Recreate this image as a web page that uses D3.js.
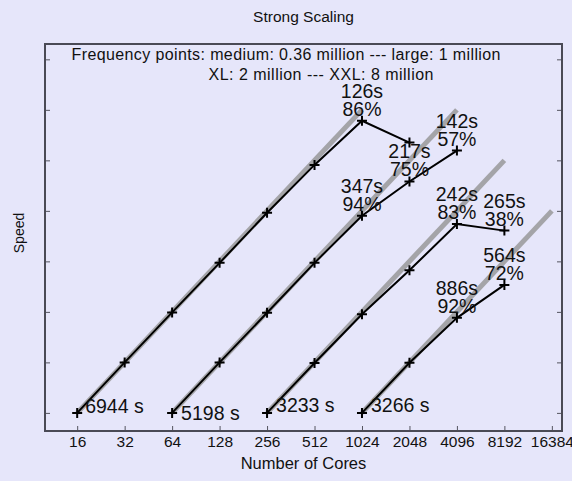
<!DOCTYPE html>
<html>
<head>
<meta charset="utf-8">
<script src="https://cdn.jsdelivr.net/npm/d3@7"></script>
<style>
  body { margin: 0; background: #e6e6fa; }
  text { font-family: "Liberation Sans", Arial, sans-serif; fill: #111; }
</style>
</head>
<body>
<div id="chart"></div>
<script>
// problem sizes: cores used and wall time (s)
var names = ["medium", "large", "XL", "XXL"];
var cores = [
  [16, 32, 64, 128, 256, 512, 1024, 2048],
  [64, 128, 256, 512, 1024, 2048, 4096],
  [256, 512, 1024, 2048, 4096, 8192],
  [1024, 2048, 4096, 8192]
];
var times = [
  [6944, 3472, 1749, 886, 445, 231, 126, 170],
  [5198, 2600, 1316, 663, 347, 217, 142],
  [3233, 1630, 835, 457, 242, 265],
  [3266, 1640, 886, 564]
];
// points that carry a "time / efficiency" label
var labelAt = [[1024], [1024, 2048, 4096], [4096, 8192], [4096, 8192]];
// ideal (linear) speedup is drawn up to these core counts
var idealEnd = [1024, 4096, 8192, 16384];
var xTicks = [16, 32, 64, 128, 256, 512, 1024, 2048, 4096, 8192, 16384];
var yTicks = [1, 2, 4, 8, 16, 32, 64, 128];
var title = "Strong Scaling";
var note = ["Frequency points: medium: 0.36 million --- large: 1 million",
            "XL: 2 million --- XXL: 8 million"];

var W = 572, H = 481;
var m = {top: 44, right: 10, bottom: 50, left: 45};
var width = W - m.left - m.right,
    height = H - m.top - m.bottom;

var svg = d3.select("#chart").append("svg")
    .attr("width", W).attr("height", H);

var g = svg.append("g")
    .attr("transform", "translate(" + m.left + "," + m.top + ")");

var x = d3.scaleLog().base(2).domain([10, 19000]).range([0, width]);
var y = d3.scaleLog().base(2).domain([0.78, 158]).range([height, 0]);

// build point objects
var series = cores.map(function(c, i) {
  return c.map(function(n, j) {
    return {cores: n, time: times[i][j],
            speed: times[i][0] / times[i][j],
            eff: times[i][0] * c[0] / (times[i][j] * n)};
  });
});

// axes, ticks inward
g.append("g")
  .attr("class", "x axis")
  .attr("transform", "translate(0," + height + ")")
  .call(d3.axisBottom(x).tickValues(xTicks).tickSizeInner(-5).tickSizeOuter(0)
        .tickPadding(5).tickFormat(d3.format("d")));
g.append("g")
  .attr("class", "y axis")
  .call(d3.axisLeft(y).tickValues(yTicks).tickSizeInner(-5).tickSizeOuter(0).tickFormat(""));
g.append("g")
  .attr("class", "y axis")
  .attr("transform", "translate(" + width + ",0)")
  .call(d3.axisRight(y).tickValues(yTicks).tickSizeInner(-5).tickSizeOuter(0).tickFormat(""));
g.selectAll(".axis path").remove();
g.selectAll(".axis line").attr("stroke", "#555560").attr("stroke-width", 1);
g.selectAll(".x.axis text").style("font-size", "15.5px").attr("fill", "#111");

g.append("rect")
  .attr("width", width).attr("height", height)
  .attr("fill", "none").attr("stroke", "#4a4a55").attr("stroke-width", 2);

// ideal speedup lines
var line = d3.line()
  .x(function(d) { return x(d.cores); })
  .y(function(d) { return y(d.speed); });

g.selectAll(".ideal")
  .data(series)
  .enter().append("path")
  .attr("class", "ideal")
  .attr("d", function(s, i) {
    var c0 = s[0].cores;
    return line([{cores: c0, speed: 1}, {cores: idealEnd[i], speed: idealEnd[i] / c0}]);
  })
  .attr("fill", "none").attr("stroke", "#a4a4a8").attr("stroke-width", 5);

g.selectAll(".measured")
  .data(series)
  .enter().append("path")
  .attr("class", "measured")
  .attr("d", line)
  .attr("fill", "none").attr("stroke", "#000").attr("stroke-width", 2);

// + markers
series.forEach(function(s) {
  g.selectAll(null)
    .data(s)
    .enter().append("path")
    .attr("transform", function(d) { return "translate(" + x(d.cores) + "," + y(d.speed) + ")"; })
    .attr("d", "M-5,0H5M0,-5V5")
    .attr("stroke", "#000").attr("stroke-width", 2);
});

// time/efficiency labels
var lbl = g.append("g").style("font-size", "19.5px");
series.forEach(function(s, i) {
  s.filter(function(d) { return labelAt[i].indexOf(d.cores) >= 0; })
   .forEach(function(d) {
     var t = lbl.append("text")
       .attr("x", x(d.cores)).attr("y", y(d.speed) - 23)
       .attr("text-anchor", "middle");
     t.append("tspan").text(d.time + "s");
     t.append("tspan").attr("x", x(d.cores)).attr("dy", 18)
       .text(Math.round(d.eff * 100) + "%");
   });
});

// base times next to the first point
var baseOff = [[8, 0], [9, 7], [9, -1], [9, -1]];
series.forEach(function(s, i) {
  lbl.append("text")
    .attr("x", x(s[0].cores) + baseOff[i][0])
    .attr("y", y(s[0].speed) + baseOff[i][1])
    .text(s[0].time + " s");
});

// title, note, axis labels
svg.append("text")
  .attr("x", m.left + width / 2).attr("y", 22)
  .attr("text-anchor", "middle").style("font-size", "15.5px")
  .text(title);
svg.append("text")
  .attr("x", 286).attr("y", 60)
  .attr("text-anchor", "middle").style("font-size", "16px")
  .attr("textLength", 429).attr("lengthAdjust", "spacing")
  .text(note[0]);
svg.append("text")
  .attr("x", 321).attr("y", 80)
  .attr("text-anchor", "middle").style("font-size", "16px")
  .attr("textLength", 225).attr("lengthAdjust", "spacing")
  .text(note[1]);
svg.append("text")
  .attr("x", m.left + width / 2).attr("y", 469)
  .attr("text-anchor", "middle").style("font-size", "16.5px")
  .text("Number of Cores");
svg.append("text")
  .attr("transform", "translate(24," + (m.top + 189) + ") rotate(-90)")
  .attr("text-anchor", "middle").style("font-size", "14px")
  .text("Speed");
</script>
</body>
</html>
